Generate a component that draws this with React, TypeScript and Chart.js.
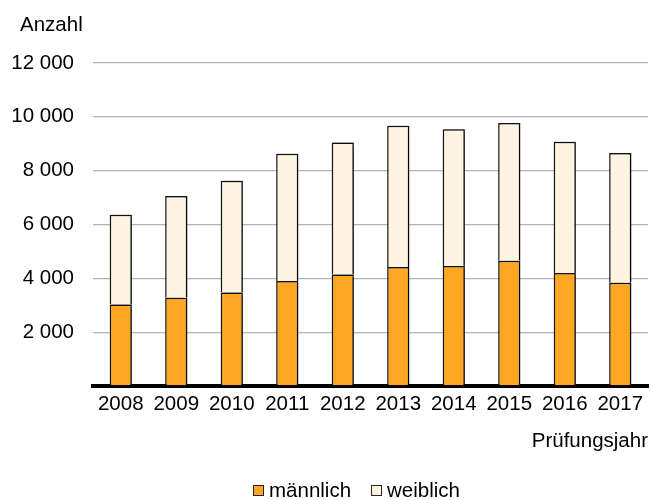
import React, { useEffect, useRef } from "react";
import { Chart, registerables } from "chart.js";

Chart.register(...registerables);

const years = ["2008", "2009", "2010", "2011", "2012", "2013", "2014", "2015", "2016", "2017"];
const maennlich = [3030, 3280, 3470, 3900, 4140, 4420, 4460, 4650, 4200, 3840];
const weiblich = [3330, 3780, 4160, 4730, 4910, 5250, 5080, 5120, 4870, 4820];
const yTicks = [2000, 4000, 6000, 8000, 10000, 12000];
const seriesLabels = ["männlich", "weiblich"];
const yTitle = "Anzahl";
const xTitle = "Prüfungsjahr";

const FONT = "'Liberation Sans', Arial, sans-serif";
const FS = 20.5;
const ORANGE = "#FFA623";
const CREAM = "#FFF3E2";

function fmt(v: number): string {
  const s = String(Math.round(v));
  return s.replace(/\B(?=(\d{3})+(?!\d))/g, " ");
}

const extrasPlugin = {
  id: "extras",
  beforeDatasetsDraw(chart: any) {
    const ctx = chart.ctx;
    ctx.save();
    ctx.shadowColor = "rgba(0,0,0,0.45)";
    ctx.shadowBlur = 1;
    ctx.shadowOffsetX = 1.5;
    ctx.shadowOffsetY = -0.5;
  },
  afterDatasetsDraw(chart: any) {
    chart.ctx.restore();
  },
  afterDraw(chart: any) {
    const ctx = chart.ctx;
    ctx.save();
    ctx.fillStyle = "#000";
    ctx.font = `${FS}px ${FONT}`;
    ctx.textBaseline = "alphabetic";
    ctx.textAlign = "left";
    ctx.fillText(yTitle, 20, 31);

    // legend
    let x = 253;
    const baseY = 497;
    chart.data.datasets.forEach((ds: any) => {
      ctx.fillStyle = ds.backgroundColor;
      ctx.fillRect(x, 485, 11, 11);
      ctx.strokeStyle = "#222";
      ctx.lineWidth = 1;
      ctx.strokeRect(x + 0.5, 485.5, 10, 10);
      ctx.fillStyle = "#000";
      const tx = x + 16;
      ctx.fillText(ds.label, tx, baseY);
      x = tx + ctx.measureText(ds.label).width + 20;
    });
    ctx.restore();
  },
};

export default function App() {
  const ref = useRef<HTMLCanvasElement | null>(null);

  useEffect(() => {
    document.body.style.margin = "0";
    if (!ref.current) return;
    const chart = new Chart(ref.current, {
      type: "bar",
      data: {
        labels: years,
        datasets: [
          {
            label: seriesLabels[0],
            data: maennlich,
            backgroundColor: ORANGE,
            borderColor: "#111",
            borderWidth: 1.5,
            categoryPercentage: 1,
            barPercentage: 0.4,
          },
          {
            label: seriesLabels[1],
            data: weiblich,
            backgroundColor: CREAM,
            borderColor: "#111",
            borderWidth: 1.5,
            categoryPercentage: 1,
            barPercentage: 0.4,
          },
        ],
      },
      options: {
        responsive: false,
        animation: false,
        layout: { padding: { top: 63, right: 5, bottom: 46, left: 0 } },
        plugins: {
          legend: { display: false },
          title: { display: false },
          tooltip: { enabled: false },
        },
        scales: {
          x: {
            stacked: true,
            grid: { display: false, drawTicks: false },
            border: { display: true, color: "#000", width: 4 },
            ticks: { color: "#000", font: { family: FONT, size: FS }, padding: 6, maxRotation: 0 },
            title: {
              display: true,
              text: xTitle,
              align: "end",
              color: "#000",
              font: { family: FONT, size: FS },
              padding: { top: 0, bottom: 0 },
            },
            afterFit: (s: any) => {
              s.height = 68;
            },
          },
          y: {
            stacked: true,
            min: 0,
            max: 12000,
            afterBuildTicks: (s: any) => {
              s.ticks = [0, ...yTicks].map((v) => ({ value: v }));
            },
            grid: { color: "#b3b3b3", lineWidth: 1.3, drawTicks: false },
            border: { display: false },
            ticks: {
              color: "#000",
              font: { family: FONT, size: FS },
              padding: 19,
              callback: (v: any) => (Number(v) === 0 ? "" : fmt(Number(v))),
            },
            afterFit: (s: any) => {
              s.width = 93;
            },
          },
        },
      },
      plugins: [extrasPlugin],
    });
    return () => chart.destroy();
  }, []);

  return (
    <div style={{ width: 653, height: 500 }}>
      <canvas ref={ref} width={653} height={500} />
    </div>
  );
}
